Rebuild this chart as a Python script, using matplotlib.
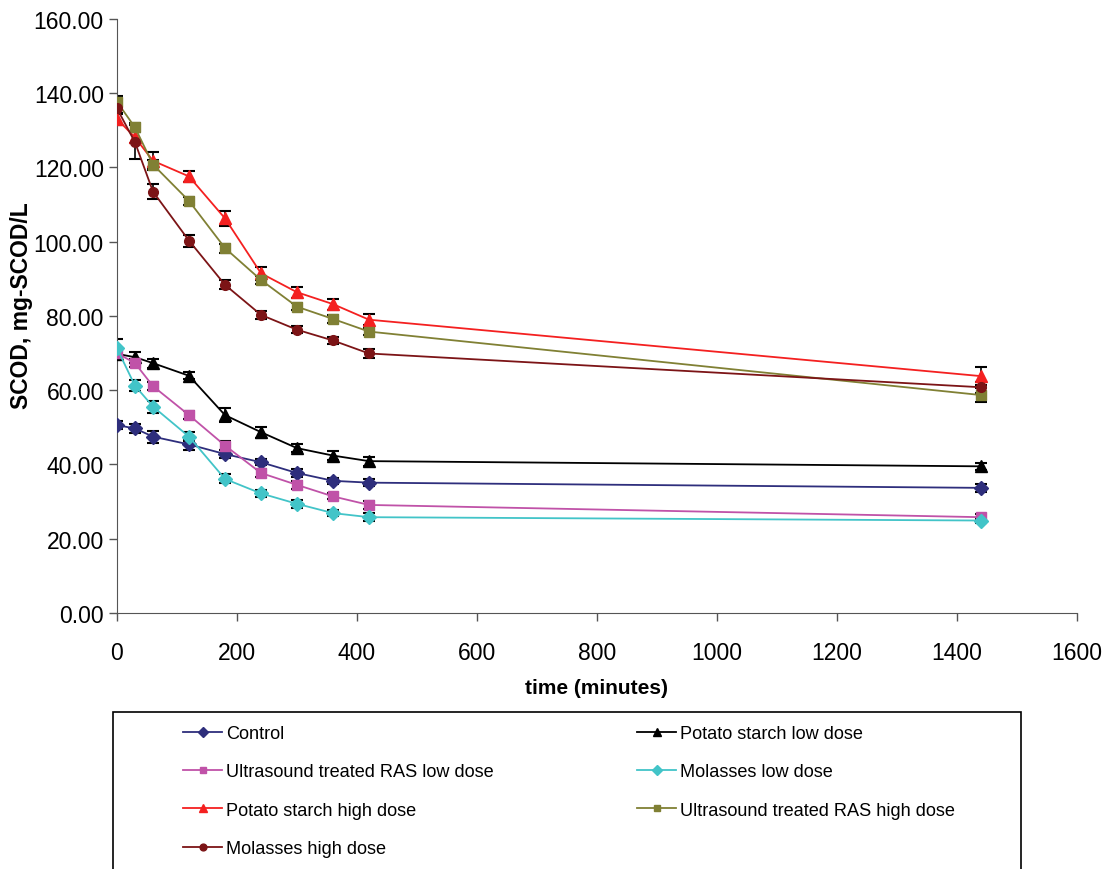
import matplotlib
matplotlib.use("Agg")
import matplotlib.pyplot as plt
from matplotlib.patches import Rectangle
from matplotlib.ticker import FormatStrFormatter

# sampling times (minutes)
time_min = [0, 30, 60, 120, 180, 240, 300, 360, 420, 1440]

control = [50.6, 49.7, 47.5, 45.4, 42.8, 40.6, 37.7, 35.6, 35.1, 33.7]
potato_low = [69.8, 68.9, 67.3, 63.9, 53.3, 48.7, 44.4, 42.4, 40.9, 39.5]
us_low = [70.0, 67.3, 61.1, 53.3, 45.1, 37.7, 34.5, 31.4, 29.1, 25.8]
molasses_low = [71.3, 61.2, 55.6, 47.5, 36.1, 32.2, 29.4, 26.9, 25.8, 24.9]
potato_high = [133.1, 128.1, 121.8, 117.6, 106.3, 91.5, 86.4, 83.2, 79.0, 63.8]
us_high = [137.7, 130.8, 120.8, 111.0, 98.3, 89.7, 82.5, 79.2, 75.8, 58.7]
molasses_high = [135.9, 126.8, 113.5, 100.3, 88.4, 80.3, 76.3, 73.4, 69.9, 60.8]

# standard deviations (error bars)
control_err = [1.0, 1.2, 1.6, 1.4, 1.0, 0.8, 1.0, 0.8, 1.0, 1.0]
potato_low_err = [1.5, 1.5, 1.2, 1.0, 1.8, 1.5, 1.0, 1.2, 1.2, 1.0]
us_low_err = [1.0, 1.0, 1.0, 1.0, 1.2, 1.0, 1.0, 0.8, 1.0, 0.8]
molasses_low_err = [2.5, 1.5, 1.6, 1.2, 1.2, 1.0, 1.0, 0.8, 1.0, 0.8]
potato_high_err = [1.7, 1.5, 2.5, 1.5, 2.0, 1.8, 1.5, 1.5, 1.5, 2.5]
us_high_err = [1.6, 1.2, 1.2, 1.0, 1.2, 1.0, 1.0, 1.0, 1.0, 2.0]
molasses_high_err = [1.5, 4.6, 2.0, 1.6, 1.2, 1.0, 1.0, 1.0, 1.2, 1.5]

series = [
    ("Control", control, control_err, "#2e2e7c", "D", 7),
    ("Potato starch low dose", potato_low, potato_low_err, "#000000", "^", 8),
    ("Ultrasound treated RAS low dose", us_low, us_low_err, "#c052a8", "s", 7),
    ("Molasses low dose", molasses_low, molasses_low_err, "#42c4c8", "D", 7),
    ("Potato starch high dose", potato_high, potato_high_err, "#f42020", "^", 8),
    ("Ultrasound treated RAS high dose", us_high, us_high_err, "#808034", "s", 7),
    ("Molasses high dose", molasses_high, molasses_high_err, "#7c1416", "o", 7),
]

plt.rcParams["font.family"] = ["Liberation Sans", "DejaVu Sans"]

fig = plt.figure(figsize=(11.12, 8.7), dpi=100)
ax = fig.add_axes([0.1052, 0.2943, 0.8633, 0.6827])

handles = {}
for name, vals, err, color, marker, ms in series:
    ax.errorbar(time_min, vals, yerr=err, fmt="none", ecolor="black",
                elinewidth=1.2, capsize=4.5, capthick=1.5, zorder=2)
    line, = ax.plot(time_min, vals, color=color, lw=1.3, marker=marker,
                    ms=ms, markeredgecolor=color, zorder=3)
    handles[name] = line

ax.set_xlim(0, 1600)
ax.set_ylim(0, 160)
ax.set_xticks(range(0, 1601, 200))
ax.set_yticks(range(0, 161, 20))
ax.yaxis.set_major_formatter(FormatStrFormatter("%.2f"))
ax.tick_params(labelsize=16.5, length=6, width=1, colors="#555555",
               labelcolor="black")
ax.tick_params(axis="x", pad=14)
for side in ("top", "right"):
    ax.spines[side].set_visible(False)
for side in ("left", "bottom"):
    ax.spines[side].set_color("#555555")

ax.set_xlabel("time (minutes)", fontsize=15, fontweight="bold")
ax.xaxis.set_label_coords(0.5, -0.109)
ax.set_ylabel("SCOD, mg-SCOD/L", fontsize=16.5, fontweight="bold")
ax.yaxis.set_label_coords(-0.0875, 0.5185)

# legend order: matplotlib fills columns first
order = ["Control", "Ultrasound treated RAS low dose", "Potato starch high dose",
         "Molasses high dose", "Potato starch low dose", "Molasses low dose",
         "Ultrasound treated RAS high dose"]
leg = fig.legend([handles[n] for n in order], order, ncol=2,
                 loc="upper left", bbox_to_anchor=(0.1646, 0.1655),
                 bbox_transform=fig.transFigure, frameon=False,
                 fontsize=13.1, handlelength=2.14, handletextpad=0.22,
                 columnspacing=7.9, labelspacing=1.17, borderpad=0,
                 markerscale=0.7, borderaxespad=0)

# legend box (bottom edge runs off the figure)
fig.patches.append(Rectangle((0.1016, -0.02), 0.8165, 0.2005,
                             transform=fig.transFigure, fill=False,
                             edgecolor="black", lw=1.2))

fig.savefig("out.png", dpi=100)
